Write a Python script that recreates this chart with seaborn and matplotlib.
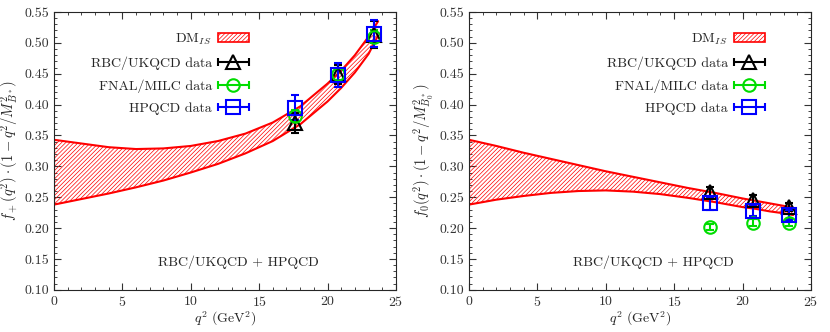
import numpy as np
import pandas as pd
import matplotlib
matplotlib.use("Agg")
import matplotlib.pyplot as plt
import seaborn as sns
from matplotlib.patches import Patch
from matplotlib.container import ErrorbarContainer
from matplotlib.legend_handler import HandlerErrorbar
from matplotlib.ticker import MultipleLocator

# band boundaries
q2_band = [0, 2, 4, 6, 8, 10, 12, 14, 16, 18, 20, 21, 22, 23, 23.7]
fplus_upper = [0.343, 0.337, 0.331, 0.328, 0.329, 0.333, 0.341, 0.353, 0.371,
               0.397, 0.434, 0.455, 0.480, 0.510, 0.535]
fplus_lower = [0.238, 0.247, 0.256, 0.266, 0.277, 0.290, 0.304, 0.321, 0.341,
               0.368, 0.405, 0.427, 0.452, 0.482, 0.512]
fzero_upper = [0.343, 0.333, 0.322, 0.312, 0.302, 0.292, 0.283, 0.274, 0.265,
               0.257, 0.248, 0.244, 0.240, 0.236, 0.233]
fzero_lower = [0.238, 0.246, 0.252, 0.257, 0.260, 0.261, 0.259, 0.255, 0.249,
               0.242, 0.234, 0.231, 0.227, 0.224, 0.221]

# lattice points
q2_lat = [17.6, 20.8, 23.4]
rbc_fplus = [0.370, 0.449, 0.513]
rbc_fplus_err = [0.016, 0.015, 0.022]
fnal_fplus = [0.381, 0.450, 0.510]
fnal_fplus_err = [0.010, 0.010, 0.010]
hpqcd_fplus = [0.395, 0.448, 0.515]
hpqcd_fplus_err = [0.020, 0.020, 0.022]

rbc_fzero = [0.258, 0.246, 0.234]
rbc_fzero_err = [0.008, 0.007, 0.006]
fnal_fzero = [0.202, 0.209, 0.209]
fnal_fzero_err = [0.005, 0.005, 0.005]
hpqcd_fzero = [0.240, 0.228, 0.221]
hpqcd_fzero_err = [0.010, 0.008, 0.008]

sns.set_style("ticks")
plt.rcParams.update({
    "font.family": ["cmr10", "DejaVu Serif"],
    "mathtext.fontset": "cm",
    "axes.formatter.use_mathtext": True,
    "font.size": 10,
    "hatch.linewidth": 0.5,
    "xtick.direction": "in",
    "ytick.direction": "in",
    "xtick.top": True,
    "ytick.right": True,
    "xtick.minor.visible": True,
    "ytick.minor.visible": True,
    "xtick.major.size": 5,
    "ytick.major.size": 5,
    "xtick.minor.size": 2.5,
    "ytick.minor.size": 2.5,
    "axes.linewidth": 0.8,
})

fig = plt.figure(figsize=(8.3, 3.32), dpi=100)
ax_l = fig.add_axes([0.065, 0.127, 0.412, 0.837])
ax_r = fig.add_axes([0.565, 0.127, 0.412, 0.837])

series = [
    ("RBC/UKQCD data", "black", "^", 10),
    ("FNAL/MILC data", "#00dd00", "o", 9),
    ("HPQCD data", "blue", "s", 10),
]
HATCH = "////////"


def draw_panel(ax, upper, lower, values, errors, ylabel, legend_x):
    band = pd.DataFrame({"q2": q2_band, "upper": upper, "lower": lower})
    ax.fill_between(band["q2"], band["lower"], band["upper"], facecolor="none",
                    edgecolor="red", linewidth=0, hatch=HATCH)
    sns.lineplot(data=band, x="q2", y="upper", color="red", lw=1.5, ax=ax,
                 estimator=None)
    sns.lineplot(data=band, x="q2", y="lower", color="red", lw=1.5, ax=ax,
                 estimator=None)
    ax.plot([0, 0], [lower[0], upper[0]], color="red", lw=1.5)

    handles = [Patch(facecolor="white", edgecolor="red", hatch=HATCH,
                     linewidth=1.2, label=r"DM$_{IS}$")]
    for (label, color, marker, ms), y, err in zip(series, values, errors):
        ax.errorbar(q2_lat, y, yerr=err, fmt=marker, color=color, mfc="none",
                    mec=color, mew=1.5, ms=ms, elinewidth=1.5, capsize=3,
                    capthick=1.5)
        h = ax.errorbar([np.nan], [np.nan], xerr=[1], fmt=marker, color=color,
                        mfc="none", mec=color, mew=1.5, ms=ms, elinewidth=1.5,
                        capsize=3, capthick=1.5, label=label)
        handles.append(h)

    ax.legend(handles=handles, loc="upper right",
              bbox_to_anchor=(legend_x, 0.955),
              handler_map={ErrorbarContainer: HandlerErrorbar(xerr_size=1.1)},
              frameon=False, markerfirst=False, handlelength=2.2,
              labelspacing=0.68, borderpad=0, handletextpad=0.45,
              fontsize=10)
    ax.text(13.5, 0.145, "RBC/UKQCD + HPQCD", ha="center", va="center",
            fontsize=10)

    ax.set_xlim(0, 25)
    ax.set_ylim(0.10, 0.55)
    ax.xaxis.set_major_locator(MultipleLocator(5))
    ax.xaxis.set_minor_locator(MultipleLocator(1))
    ax.yaxis.set_major_locator(MultipleLocator(0.05))
    ax.yaxis.set_minor_locator(MultipleLocator(0.01))
    ax.yaxis.set_major_formatter(plt.FormatStrFormatter("%.2f"))
    ax.tick_params(labelsize=10, colors="#333333", labelcolor="#333333")
    ax.set_xlabel(r"$q^2$ (GeV$^2$)", fontsize=10, labelpad=1)
    ax.set_ylabel(ylabel, fontsize=10.5, labelpad=2)


draw_panel(ax_l, fplus_upper, fplus_lower,
           [rbc_fplus, fnal_fplus, hpqcd_fplus],
           [rbc_fplus_err, fnal_fplus_err, hpqcd_fplus_err],
           r"$f_+(q^2)\cdot(1-q^2/M^2_{B^*})$", 0.59)
draw_panel(ax_r, fzero_upper, fzero_lower,
           [rbc_fzero, fnal_fzero, hpqcd_fzero],
           [rbc_fzero_err, fnal_fzero_err, hpqcd_fzero_err],
           r"$f_0(q^2)\cdot(1-q^2/M^2_{B^*_0})$", 0.885)

fig.savefig("out.png", dpi=100)
